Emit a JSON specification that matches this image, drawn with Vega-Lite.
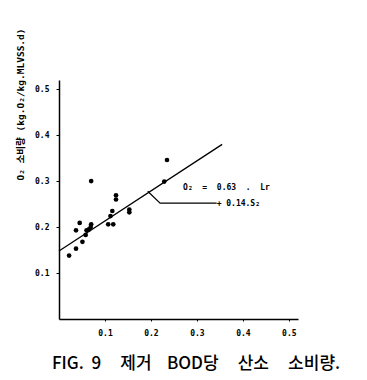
{
  "$schema": "https://vega.github.io/schema/vega-lite/v6.json",
  "autosize": "none",
  "width": 239,
  "height": 239,
  "padding": {"left": 59, "top": 80, "right": 69, "bottom": 61},
  "background": "white",
  "config": {"view": {"stroke": null}, "font": "DejaVu Sans Mono"},
  "title": {
    "text": "FIG.\u00a0\u00a09\u00a0\u00a0\u00a0\u00a0\u00a0제거\u00a0\u00a0\u00a0\u00a0BOD당\u00a0\u00a0\u00a0\u00a0\u00a0산소\u00a0\u00a0\u00a0\u00a0\u00a0소비량.",
    "orient": "bottom",
    "anchor": "start",
    "offset": 19,
    "dx": 37,
    "font": "Noto Sans CJK KR",
    "fontSize": 17,
    "fontWeight": 500,
    "color": "black"
  },
  "datasets": {
    "pts": [
      {"x": 0.022, "y": 0.138},
      {"x": 0.037, "y": 0.153},
      {"x": 0.051, "y": 0.168},
      {"x": 0.037, "y": 0.193},
      {"x": 0.045, "y": 0.209},
      {"x": 0.058, "y": 0.183},
      {"x": 0.060, "y": 0.193},
      {"x": 0.065, "y": 0.195},
      {"x": 0.069, "y": 0.200},
      {"x": 0.070, "y": 0.206},
      {"x": 0.070, "y": 0.300},
      {"x": 0.107, "y": 0.206},
      {"x": 0.118, "y": 0.206},
      {"x": 0.112, "y": 0.224},
      {"x": 0.116, "y": 0.235},
      {"x": 0.124, "y": 0.269},
      {"x": 0.124, "y": 0.260},
      {"x": 0.153, "y": 0.238},
      {"x": 0.153, "y": 0.232},
      {"x": 0.229, "y": 0.299},
      {"x": 0.235, "y": 0.346}
    ],
    "fit": [
      {"x": 0.0, "y": 0.148},
      {"x": 0.355, "y": 0.38}
    ],
    "leader": [
      {"x": 0.193, "y": 0.278, "o": 1},
      {"x": 0.220, "y": 0.252, "o": 2},
      {"x": 0.343, "y": 0.252, "o": 3}
    ],
    "labels": [
      {"x": 0.270, "y": 0.286, "t": "O₂\u00a0\u00a0=\u00a0\u00a00.63\u00a0\u00a0.\u00a0\u00a0Lr"},
      {"x": 0.343, "y": 0.251, "t": "+\u00a00.14.S₂"}
    ]
  },
  "layer": [
    {
      "data": {"name": "fit"},
      "mark": {"type": "line", "color": "black", "strokeWidth": 1.3},
      "encoding": {
        "x": {
          "field": "x", "type": "quantitative",
          "scale": {"domain": [0, 0.52], "nice": false, "zero": false},
          "axis": {
            "title": null,
            "values": [0.1, 0.2, 0.3, 0.4, 0.5],
            "format": ".1f",
            "grid": false,
            "domainColor": "black",
            "domainWidth": 1.5,
            "tickColor": "black",
            "tickSize": 2,
            "labelFont": "DejaVu Sans Mono",
            "labelFontSize": 8,
            "labelFontWeight": "bold",
            "labelColor": "black",
            "labelPadding": 8
          }
        },
        "y": {
          "field": "y", "type": "quantitative",
          "scale": {"domain": [0, 0.52], "nice": false, "zero": false},
          "axis": {
            "title": "O₂ 소비량 (kg.O₂/kg.MLVSS.d)",
            "titleFont": "DejaVu Sans Mono, Noto Sans CJK KR",
            "titleFontSize": 9.5,
            "titleFontWeight": "bold",
            "titleColor": "black",
            "titleX": -39,
            "titleY": 24,
            "titleAngle": -90,
            "titleAlign": "center",
            "titleBaseline": "middle",
            "values": [0.1, 0.2, 0.3, 0.4, 0.5],
            "format": ".1f",
            "grid": false,
            "domainColor": "black",
            "domainWidth": 1.5,
            "tickColor": "black",
            "tickSize": 3,
            "labelFont": "DejaVu Sans Mono",
            "labelFontSize": 8,
            "labelFontWeight": "bold",
            "labelColor": "black",
            "labelPadding": 7
          }
        }
      }
    },
    {
      "data": {"name": "leader"},
      "mark": {"type": "line", "color": "black", "strokeWidth": 1.2},
      "encoding": {
        "x": {"field": "x", "type": "quantitative"},
        "y": {"field": "y", "type": "quantitative"},
        "order": {"field": "o"}
      }
    },
    {
      "data": {"name": "pts"},
      "mark": {"type": "circle", "color": "black", "opacity": 1, "size": 22},
      "encoding": {
        "x": {"field": "x", "type": "quantitative"},
        "y": {"field": "y", "type": "quantitative"}
      }
    },
    {
      "data": {"name": "labels"},
      "mark": {"type": "text", "align": "left", "baseline": "middle", "font": "DejaVu Sans Mono", "fontSize": 8, "fontWeight": "bold", "color": "black"},
      "encoding": {
        "x": {"field": "x", "type": "quantitative"},
        "y": {"field": "y", "type": "quantitative"},
        "text": {"field": "t"}
      }
    }
  ]
}
